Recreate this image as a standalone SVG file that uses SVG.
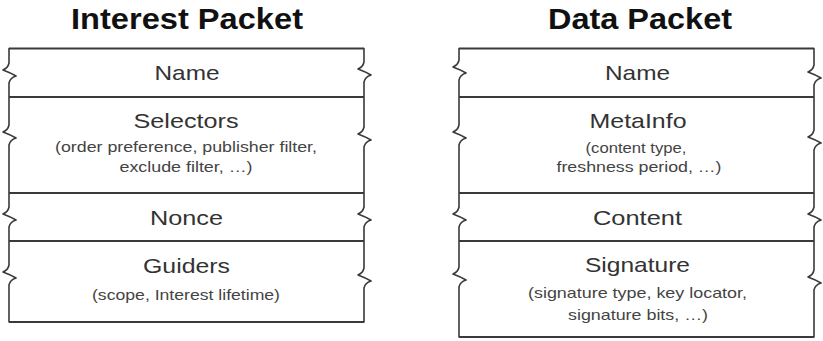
<svg xmlns="http://www.w3.org/2000/svg" width="823" height="341" viewBox="0 0 823 341">
  <style>
    .bg { fill: #ffffff; }
    .rule { stroke: #3a3a3a; stroke-width: 2; fill: none; }
    .edge { stroke: #3a3a3a; stroke-width: 1.6; fill: none; stroke-linejoin: round; stroke-linecap: round; }
    .title { font-family: "Liberation Sans", Arial, sans-serif; font-weight: bold; font-size: 29px; fill: #111111; text-anchor: middle; }
    .label { font-family: "Liberation Sans", Arial, sans-serif; font-size: 21px; fill: #333333; text-anchor: middle; }
    .sub { font-family: "Liberation Sans", Arial, sans-serif; font-size: 14.5px; fill: #444444; text-anchor: middle; }
  </style>
  <rect class="bg" x="0" y="0" width="823" height="341"/>

  <!-- Interest packet -->
  <g id="interest-packet">
    <text class="title" x="187" y="29" textLength="232" lengthAdjust="spacingAndGlyphs">Interest Packet</text>
    <path class="edge" d="M9,48.5 L9,63 Q8,68 3,70 Q11,73 16,76 Q10,78 9,83 L9,125 Q8,130 3,132 Q11,135 16,138 Q10,140 9,145 L9,207 Q8,212 3,214 Q11,217 16,220 Q10,222 9,227 L9,265 Q8,270 3,272 Q11,275 16,278 Q10,280 9,285 L9,322"/>
    <path class="edge" d="M364,48.5 L364,62 Q363,67 358,69 Q366,72 371,75 Q365,77 364,82 L364,127 Q363,132 358,134 Q366,137 371,140 Q365,142 364,147 L364,207 Q363,212 358,214 Q366,217 371,220 Q365,222 364,227 L364,268 Q363,273 358,275 Q366,278 371,281 Q365,283 364,288 L364,322"/>
    <g id="interest-name">
      <line class="rule" x1="9" y1="48.5" x2="364" y2="48.5"/>
      <text class="label" x="187" y="80" textLength="65" lengthAdjust="spacingAndGlyphs">Name</text>
    </g>
    <g id="interest-selectors">
      <line class="rule" x1="9" y1="97" x2="364" y2="97"/>
      <text class="label" x="186" y="128" textLength="105" lengthAdjust="spacingAndGlyphs">Selectors</text>
      <text class="sub" x="186" y="152" textLength="262" lengthAdjust="spacingAndGlyphs">(order preference, publisher filter,</text>
      <text class="sub" x="186" y="172" textLength="133" lengthAdjust="spacingAndGlyphs">exclude filter, …)</text>
    </g>
    <g id="interest-nonce">
      <line class="rule" x1="9" y1="193" x2="364" y2="193"/>
      <text class="label" x="186.5" y="225" textLength="73" lengthAdjust="spacingAndGlyphs">Nonce</text>
    </g>
    <g id="interest-guiders">
      <line class="rule" x1="9" y1="241" x2="364" y2="241"/>
      <text class="label" x="186.5" y="273" textLength="87" lengthAdjust="spacingAndGlyphs">Guiders</text>
      <text class="sub" x="186" y="300" textLength="188" lengthAdjust="spacingAndGlyphs">(scope, Interest lifetime)</text>
      <line class="rule" x1="9" y1="322" x2="364" y2="322"/>
    </g>
  </g>

  <!-- Data packet -->
  <g id="data-packet">
    <text class="title" x="640" y="29" textLength="184" lengthAdjust="spacingAndGlyphs">Data Packet</text>
    <path class="edge" d="M459,48.5 L459,60 Q458,65 453,67 Q461,70 466,73 Q460,75 459,80 L459,125 Q458,130 453,132 Q461,135 466,138 Q460,140 459,145 L459,207 Q458,212 453,214 Q461,217 466,220 Q460,222 459,227 L459,267 Q458,272 453,274 Q461,277 466,280 Q460,282 459,287 L459,337"/>
    <path class="edge" d="M814,48.5 L814,65 Q813,70 808,72 Q816,75 821,78 Q815,80 814,85 L814,130 Q813,135 808,137 Q816,140 821,143 Q815,145 814,150 L814,207 Q813,212 808,214 Q816,217 821,220 Q815,222 814,227 L814,270 Q813,275 808,277 Q816,280 821,283 Q815,285 814,290 L814,337"/>
    <g id="data-name">
      <line class="rule" x1="459" y1="48.5" x2="814" y2="48.5"/>
      <text class="label" x="637.5" y="80" textLength="65" lengthAdjust="spacingAndGlyphs">Name</text>
    </g>
    <g id="data-metainfo">
      <line class="rule" x1="459" y1="97" x2="814" y2="97"/>
      <text class="label" x="638" y="128" textLength="97" lengthAdjust="spacingAndGlyphs">MetaInfo</text>
      <text class="sub" x="636" y="153" textLength="101" lengthAdjust="spacingAndGlyphs">(content type,</text>
      <text class="sub" x="639" y="172" textLength="165" lengthAdjust="spacingAndGlyphs">freshness period, …)</text>
    </g>
    <g id="data-content">
      <line class="rule" x1="459" y1="193" x2="814" y2="193"/>
      <text class="label" x="637.5" y="225" textLength="89" lengthAdjust="spacingAndGlyphs">Content</text>
    </g>
    <g id="data-signature">
      <line class="rule" x1="459" y1="241" x2="814" y2="241"/>
      <text class="label" x="637.5" y="272" textLength="105" lengthAdjust="spacingAndGlyphs">Signature</text>
      <text class="sub" x="637.5" y="298" textLength="219" lengthAdjust="spacingAndGlyphs">(signature type, key locator,</text>
      <text class="sub" x="638" y="320" textLength="140" lengthAdjust="spacingAndGlyphs">signature bits, …)</text>
      <line class="rule" x1="459" y1="337" x2="814" y2="337"/>
    </g>
  </g>
</svg>
